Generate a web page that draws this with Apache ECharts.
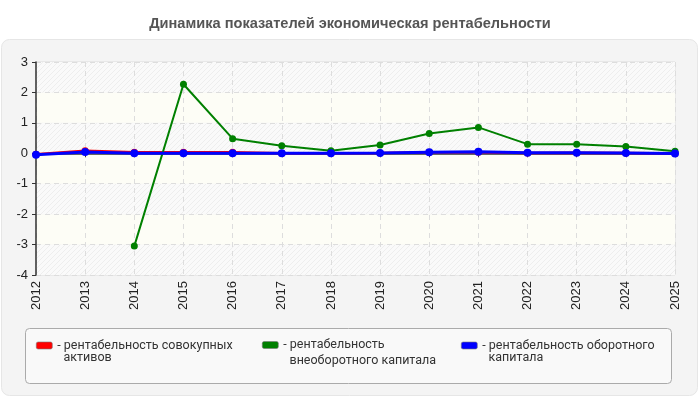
<!DOCTYPE html>
<html lang="ru">
<head>
    <meta charset="UTF-8">
    <title>Динамика показателей</title>
    <script src="https://cdn.jsdelivr.net/npm/echarts@6/dist/echarts.min.js"></script>
    <style>
        html, body { margin: 0; padding: 0; background: #fff; }
        #box { width: 700px; height: 400px; }
    </style>
</head>
<body>
<div id="box"></div>
<script>
    // годы и значения
    var years = ['2012', '2013', '2014', '2015', '2016', '2017', '2018', '2019', '2020', '2021', '2022', '2023', '2024', '2025'];
    var assets = [-0.03, 0.08, 0.03, 0.035, 0.035, 0.0, 0.0, 0.01, 0.03, 0.03, 0.01, 0.02, 0.01, -0.01];
    var fixedCapital = [null, null, -3.05, 2.27, 0.48, 0.25, 0.08, 0.27, 0.65, 0.85, 0.3, 0.3, 0.22, 0.07];
    var workingCapital = [-0.05, 0.04, 0.0, 0.0, 0.0, 0.0, 0.0, 0.01, 0.03, 0.05, 0.02, 0.02, 0.01, -0.01];
    var names = ['рентабельность совокупных\nактивов', 'рентабельность\nвнеоборотного капитала', 'рентабельность оборотного\nкапитала'];

    // штриховка для полос
    function hatch() {
        var c = document.createElement('canvas');
        c.width = 5; c.height = 5;
        var g = c.getContext('2d');
        g.fillStyle = '#fafafa';
        g.fillRect(0, 0, 5, 5);
        g.strokeStyle = '#eeeeee';
        g.lineWidth = 1;
        g.beginPath();
        g.moveTo(0, 5); g.lineTo(5, 0);
        g.moveTo(-1, 1); g.lineTo(1, -1);
        g.moveTo(4, 6); g.lineTo(6, 4);
        g.stroke();
        return c;
    }

    var myChart = echarts.init(document.getElementById('box'));

    // пустая первая строка — чтобы первая строка текста была на уровне значка
    function legendFor(i, left, lh) {
        return {
            left: left,
            top: 345 - 1.5 * lh,
            padding: 0,
            data: [names[i]],
            icon: 'roundRect',
            itemWidth: 16,
            itemHeight: 7,
            selectedMode: false,
            formatter: function (n) { return '\n- ' + n.replace('\n', '\n  '); },
            textStyle: {
                color: '#333',
                fontSize: 12.5,
                fontFamily: 'Roboto, sans-serif',
                lineHeight: lh
            },
            itemStyle: { borderColor: '#777', borderWidth: 0.6 }
        };
    }

    var option = {
        backgroundColor: '#fff',
        animation: false,
        title: {
            text: 'Динамика показателей экономическая рентабельности',
            left: 'center',
            top: 11,
            textStyle: { fontSize: 14.6, fontWeight: 'bold', color: '#555', fontFamily: '"Liberation Sans", Arial, sans-serif' }
        },
        graphic: [
            {
                type: 'rect', z: -10, silent: true,
                shape: { x: 1.5, y: 39.5, width: 696, height: 356, r: 8 },
                style: { fill: '#f4f4f4', stroke: '#e6e6e6', lineWidth: 1 }
            },
            {
                type: 'rect', z: -5, silent: true,
                shape: { x: 25.5, y: 328.5, width: 646, height: 55, r: 4 },
                style: { fill: '#f9f9f9', stroke: '#aaa', lineWidth: 1 }
            }
        ],
        legend: [
            legendFor(0, 36, 12),
            legendFor(1, 262, 16),
            legendFor(2, 461, 12)
        ],
        grid: { left: 36, right: 25, top: 62, bottom: 125, show: true, borderColor: '#ddd', borderWidth: 1, backgroundColor: 'transparent' },
        xAxis: {
            type: 'category',
            data: years,
            boundaryGap: false,
            axisLine: { lineStyle: { color: '#333', width: 1.5 } },
            axisTick: { alignWithLabel: true, lineStyle: { color: '#333' }, length: 4 },
            axisLabel: { rotate: 90, color: '#222', fontSize: 13, fontFamily: '"Liberation Sans", Arial, sans-serif', margin: 6 },
            splitLine: { show: true, lineStyle: { color: '#ddd', type: [5, 4] } }
        },
        yAxis: {
            type: 'value',
            min: -4,
            max: 3,
            interval: 1,
            axisLine: { show: true, lineStyle: { color: '#333', width: 1.5 } },
            axisTick: { show: true, lineStyle: { color: '#333' }, length: 4 },
            axisLabel: { color: '#222', fontSize: 13, fontFamily: '"Liberation Sans", Arial, sans-serif', margin: 8 },
            splitLine: { lineStyle: { color: '#ddd', type: [5, 4] } },
            splitArea: { show: true, areaStyle: { color: [{ image: hatch(), repeat: 'repeat' }, '#fdfdf6'] } }
        },
        series: [
            {
                name: names[0], type: 'line', data: assets,
                color: '#ff0000', lineStyle: { width: 2.5 },
                symbol: 'circle', symbolSize: 7, z: 2
            },
            {
                name: names[1], type: 'line', data: fixedCapital,
                color: '#008000', lineStyle: { width: 2 },
                symbol: 'circle', symbolSize: 7, z: 3
            },
            {
                name: names[2], type: 'line', data: workingCapital,
                color: '#0000ff', lineStyle: { width: 3 },
                symbol: 'circle', symbolSize: 8, z: 4
            }
        ]
    };
    myChart.setOption(option);
</script>
</body>
</html>
